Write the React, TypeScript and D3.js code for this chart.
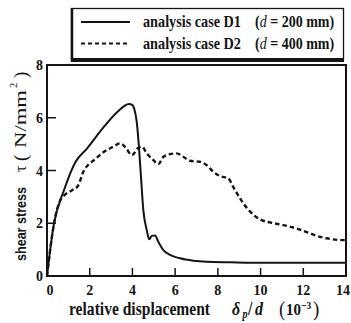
import React from "react";
import * as d3 from "d3";

// relative displacement (10^-3) and shear stress (N/mm^2)
const d1X = [0, 0.15, 0.33, 0.8, 1.34, 1.89, 2.67, 3.29, 3.84, 4.0, 4.1, 4.2, 4.28, 4.39, 4.51, 4.67, 4.79, 4.9, 5.06, 5.21, 5.45, 5.76, 6.23, 6.85, 7.48, 8.57, 10, 12, 14];
const d1Y = [0, 1.0, 2.0, 3.26, 4.33, 4.85, 5.66, 6.22, 6.52, 6.48, 6.29, 5.85, 5.15, 3.89, 2.5, 1.74, 1.39, 1.52, 1.54, 1.3, 0.98, 0.8, 0.67, 0.58, 0.54, 0.52, 0.5, 0.5, 0.5];

const d2X = [0, 0.33, 0.64, 0.8, 1.19, 1.42, 1.73, 2.2, 2.67, 3.14, 3.42, 3.7, 3.98, 4.25, 4.45, 4.67, 4.98, 5.21, 5.45, 5.76, 6.07, 6.38, 6.69, 7.16, 7.48, 7.79, 8.1, 8.49, 8.72, 9.04, 9.42, 9.74, 10.05, 10.44, 11.06, 11.53, 11.92, 12.31, 12.63, 13.09, 13.8, 14];
const d2Y = [0, 2.0, 2.9, 3.05, 3.26, 3.38, 4.0, 4.39, 4.71, 4.92, 5.03, 4.85, 4.58, 4.84, 4.9, 4.65, 4.39, 4.24, 4.52, 4.62, 4.65, 4.52, 4.37, 4.33, 4.2, 3.95, 3.79, 3.7, 3.38, 2.94, 2.52, 2.27, 2.12, 2.03, 1.93, 1.84, 1.74, 1.62, 1.52, 1.43, 1.36, 1.36];

const xTicks = [0, 2, 4, 6, 8, 10, 12, 14];
const yTicks = [0, 2, 4, 6, 8];

const legendLabels = ["analysis case D1", "analysis case D2"];
const legendDepths = ["200", "400"];

const SERIF = "'Liberation Serif', 'Times New Roman', serif";
const SANS = "'Liberation Sans', Arial, sans-serif";
const INK = "#141414";

export default function App() {
  const W = 351;
  const H = 323;
  const x = d3.scaleLinear().domain([0, 14]).range([47, 346]);
  const y = d3.scaleLinear().domain([0, 8]).range([276, 65]);

  const line = d3
    .line<[number, number]>()
    .x((d) => x(d[0]))
    .y((d) => y(d[1]))
    .curve(d3.curveMonotoneX);

  const d1 = d1X.map((v, i) => [v, d1Y[i]] as [number, number]);
  const d2 = d2X.map((v, i) => [v, d2Y[i]] as [number, number]);

  const [x0, x1] = x.range();
  const [yb, yt] = y.range();

  // horizontal text is drawn slightly taller than wide
  const tall = (tx: number, ty: number, k = 1.15) => `translate(${tx},${ty}) scale(1,${k})`;

  const xLabelPos = (t: number) => (t === 0 ? x(t) + 3 : t === 14 ? W - 1 : x(t));

  return (
    <svg
      width={W}
      height={H}
      style={{ position: "absolute", left: 0, top: 0, background: "#fff" }}
      fontFamily={SERIF}
      fill={INK}
    >
      {/* curves */}
      <path d={line(d2) ?? ""} fill="none" stroke={INK} strokeWidth={2.4} strokeDasharray="4.5 3" />
      <path d={line(d1) ?? ""} fill="none" stroke={INK} strokeWidth={2} />

      {/* frame */}
      <rect x={x0} y={yt} width={x1 - x0} height={yb - yt} fill="none" stroke={INK} strokeWidth={2} />

      {/* inward ticks */}
      {xTicks.slice(1, -1).map((t) => (
        <line key={"xt" + t} x1={x(t)} x2={x(t)} y1={yb} y2={yb - 8} stroke={INK} strokeWidth={1.5} />
      ))}
      {yTicks.slice(1, -1).map((t) => (
        <line key={"yt" + t} x1={x0} x2={x0 + 9} y1={y(t)} y2={y(t)} stroke={INK} strokeWidth={1.5} />
      ))}

      {/* tick labels */}
      {xTicks.map((t) => (
        <text
          key={"xl" + t}
          transform={tall(xLabelPos(t), 295, 1.1)}
          fontSize={14}
          fontWeight="bold"
          textAnchor={t === 14 ? "end" : "middle"}
        >
          {t}
        </text>
      ))}
      {yTicks.map((t) => (
        <text key={"yl" + t} transform={tall(43, y(t) + 5, 1.1)} fontSize={14} fontWeight="bold" textAnchor="end">
          {t}
        </text>
      ))}

      {/* x axis title */}
      <g fontWeight="bold">
        <text transform={tall(69, 315)} fontSize={15.5} textLength={141} lengthAdjust="spacingAndGlyphs">
          relative displacement
        </text>
        <text transform={tall(232, 315)} fontSize={16} fontStyle="italic">δ</text>
        <text transform={tall(242.5, 318)} fontSize={10} fontStyle="italic">p</text>
        <text transform={tall(248, 315)} fontSize={16}>/</text>
        <text transform={tall(255, 315)} fontSize={16} fontStyle="italic">d</text>
        <text transform={tall(279, 316)} fontSize={19} fontWeight="normal">(</text>
        <text transform={tall(286, 315)} fontSize={15}>10</text>
        <text transform={tall(301, 308.5)} fontSize={9.5}>−3</text>
        <text transform={tall(313, 316)} fontSize={19} fontWeight="normal">)</text>
      </g>

      {/* y axis title, rotated: u runs upward, v is the baseline's x */}
      <g transform="rotate(-90)">
        <text x={-261} y={25.5} fontFamily={SANS} fontWeight="bold" fontSize={15} textLength={74} lengthAdjust="spacingAndGlyphs">
          shear stress
        </text>
        <text x={-172} y={25.5} fontSize={16}>τ</text>
        <text x={-161} y={26.5} fontSize={19}>(</text>
        <text x={-148} y={25.5} fontSize={16} textLength={58} lengthAdjust="spacingAndGlyphs">N/mm</text>
        <text x={-88} y={17} fontSize={10.5}>2</text>
        <text x={-78} y={26.5} fontSize={19}>)</text>
      </g>

      {/* legend */}
      <rect x={71.5} y={8.5} width={272} height={51} fill="#fff" stroke={INK} strokeWidth={1.3} />
      <line x1={71} x2={344} y1={60} y2={60} stroke={INK} strokeWidth={4} />
      <line x1={72} x2={72} y1={8} y2={61} stroke={INK} strokeWidth={2.5} />
      {legendLabels.map((lab, i) => {
        const ly = 22 + i * 21.5;
        return (
          <g key={lab} fontWeight="bold">
            <line
              x1={81}
              x2={130}
              y1={ly}
              y2={ly}
              stroke={INK}
              strokeWidth={i === 0 ? 1.8 : 2.2}
              strokeDasharray={i === 0 ? undefined : "4 3"}
            />
            <text transform={tall(143, ly + 5)} fontSize={14} textLength={98} lengthAdjust="spacingAndGlyphs">
              {lab}
            </text>
            <text transform={tall(255, ly + 5)} fontSize={14}>
              <tspan>(</tspan>
              <tspan fontStyle="italic" fontWeight="normal">d</tspan>
              <tspan> = {legendDepths[i]} mm)</tspan>
            </text>
          </g>
        );
      })}
    </svg>
  );
}
